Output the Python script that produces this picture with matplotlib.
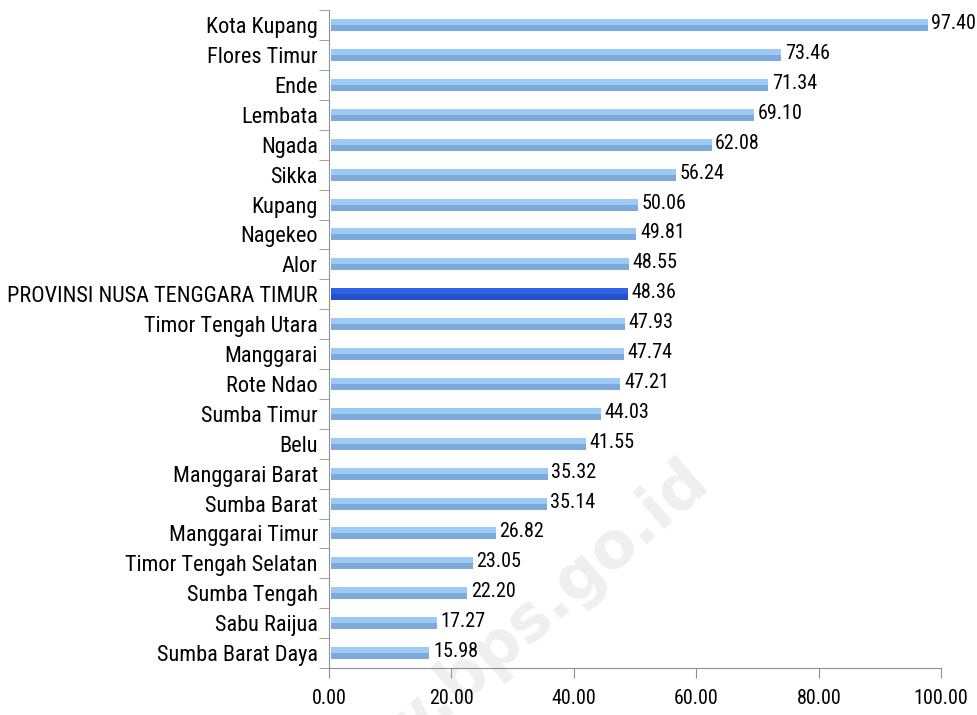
import numpy as np
import matplotlib.pyplot as plt

# Data (top to bottom as in the chart)
regions = ["Kota Kupang", "Flores Timur", "Ende", "Lembata", "Ngada", "Sikka",
           "Kupang", "Nagekeo", "Alor", "PROVINSI NUSA TENGGARA TIMUR",
           "Timor Tengah Utara", "Manggarai", "Rote Ndao", "Sumba Timur", "Belu",
           "Manggarai Barat", "Sumba Barat", "Manggarai Timur", "Timor Tengah Selatan",
           "Sumba Tengah", "Sabu Raijua", "Sumba Barat Daya"]
values = [97.40, 73.46, 71.34, 69.10, 62.08, 56.24, 50.06, 49.81, 48.55, 48.36,
          47.93, 47.74, 47.21, 44.03, 41.55, 35.32, 35.14, 26.82, 23.05, 22.20,
          17.27, 15.98]
highlight = "PROVINSI NUSA TENGGARA TIMUR"
x_ticks = [0, 20, 40, 60, 80, 100]

plt.rcParams['font.family'] = ['Roboto Condensed', 'Liberation Sans Narrow', 'DejaVu Sans']

fig = plt.figure(figsize=(9.78, 7.15), dpi=100)
ax = fig.add_axes([0.3364, 0.0657, 0.626, 0.92])

# watermark, behind everything
fig.text(0.51, 0.095, "www.bps.go.id", fontsize=46, fontweight='bold',
         color='#efefef', rotation=41, ha='center', va='center',
         family='DejaVu Sans', zorder=-1)
ax.patch.set_alpha(0)

n = len(regions)
ypos = np.arange(n)[::-1]
h = 0.40
for y, name, v in zip(ypos, regions, values):
    if name == highlight:
        top_c, bot_c = '#2f62e6', '#2450c8'
    else:
        top_c, bot_c = '#9dcaf5', '#7eaadb'
    # two-tone bar to mimic the gradient
    ax.barh(y + h / 4, v, height=h / 2, color=top_c, left=0.4)
    ax.barh(y - h / 4, v, height=h / 2, color=bot_c, left=0.4)
    ax.text(v + 1.0, y + 0.05, f"{v:.2f}", va='center', ha='left', fontsize=14.5)

ax.set_xlim(0, 100)
ax.set_ylim(-0.5, n - 0.5)
ax.set_xticks(x_ticks)
ax.set_xticklabels([f"{t:.2f}" for t in x_ticks], fontsize=14.5)
ax.set_yticks(ypos)
ax.set_yticklabels(regions, fontsize=16)
ax.tick_params(axis='y', length=0, pad=8)
ax.set_yticks(np.arange(n + 1) - 0.5, minor=True)
ax.tick_params(axis='y', which='minor', length=7, color='#909090')
ax.tick_params(axis='x', length=7, color='#909090', pad=8)

for s in ['top', 'right']:
    ax.spines[s].set_visible(False)
ax.spines['left'].set_color('#909090')
ax.spines['bottom'].set_color('#909090')

fig.savefig("out.png", dpi=100)
